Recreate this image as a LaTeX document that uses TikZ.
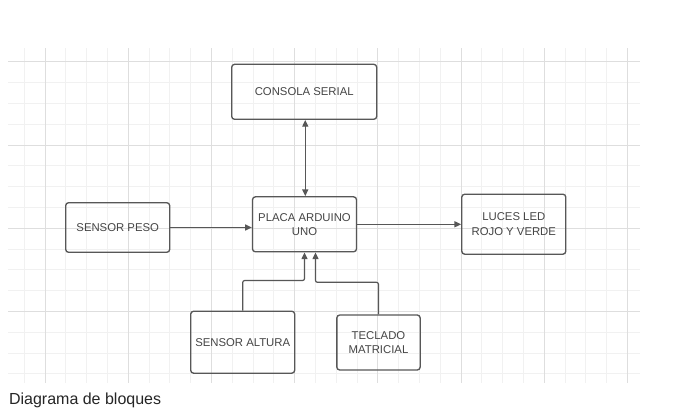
\documentclass[tikz,border=0pt]{standalone}
\usepackage{fontspec}
\setmainfont{Liberation Sans}
\usetikzlibrary{arrows.meta}
\definecolor{linea}{HTML}{575757}
\definecolor{texto}{HTML}{454545}
\definecolor{rejilla}{HTML}{F1F1F1}
\definecolor{rejillamayor}{HTML}{DEDEDE}
\tikzset{
  bloque/.style={draw=linea,line width=1pt,rounded corners=2.2pt,align=center,
    text=texto,font=\fontsize{8.5}{10.7}\selectfont,inner sep=2pt},
  flecha/.style={draw=linea,line width=0.9pt,rounded corners=1.5pt,
    -{Triangle[length=5pt,width=4.5pt]}},
  dobleflecha/.style={draw=linea,line width=0.9pt,
    {Triangle[length=5pt,width=4.5pt]}-{Triangle[length=5pt,width=4.5pt]}},
}
\begin{document}
\begin{tikzpicture}[x=0.75pt,y=-0.75pt]
\useasboundingbox (0,0) rectangle (685,419);
\fill[white] (0,0) rectangle (685,419);
% rejilla de fondo
\foreach \k in {0,...,29}
  \draw[rejilla,line width=0.6pt] ({24.2+20.8*\k},48) -- ({24.2+20.8*\k},383);
\foreach \j in {0,...,15}
  \draw[rejilla,line width=0.6pt] (8,{61.7+20.8*\j}) -- (640,{61.7+20.8*\j});
\foreach \k in {1,5,...,29}
  \draw[rejillamayor,line width=0.6pt] ({24.2+20.8*\k},48) -- ({24.2+20.8*\k},383);
\foreach \j in {0,4,8,12}
  \draw[rejillamayor,line width=0.6pt] (8,{61.7+20.8*\j}) -- (640,{61.7+20.8*\j});
% bloques
\node[bloque,minimum width=108.75pt,minimum height=41.25pt] (consola) at (304.2,91.8) {CONSOLA SERIAL};
\node[bloque,minimum width=78pt,minimum height=41.25pt] (placa) at (304.5,224.3) {PLACA ARDUINO\\UNO};
\node[bloque,minimum width=78pt,minimum height=37.2pt] (peso) at (117.7,227.5) {SENSOR PESO};
\node[bloque,minimum width=78pt,minimum height=45pt] (luces) at (513.8,224.2) {LUCES LED\\ROJO Y VERDE};
\node[bloque,minimum width=78pt,minimum height=46.5pt] (altura) at (242.7,342.2) {SENSOR ALTURA};
\node[bloque,minimum width=62.5pt,minimum height=41.25pt] (teclado) at (378.5,342.5) {TECLADO\\MATRICIAL};
% conexiones
\draw[dobleflecha] ([xshift=0.8pt]consola.south) -- ([xshift=0.8pt]consola.south |- placa.north);
\draw[flecha] (peso.east) -- (peso.east -| placa.west);
\draw[flecha] (placa.east) -- (placa.east -| luces.west);
\draw[flecha] (altura.north) -- ++(0,-30) -| (placa.south);
\draw[flecha] (teclado.north) -- ++(0,-32) -| ([xshift=8.25pt]placa.south);
% titulo
\node[anchor=base west,inner sep=0pt,font=\fontsize{12}{14}\selectfont,text=black!85] (leyenda) at (8.8,404.8) {Diagrama de bloques};
\end{tikzpicture}
\end{document}
